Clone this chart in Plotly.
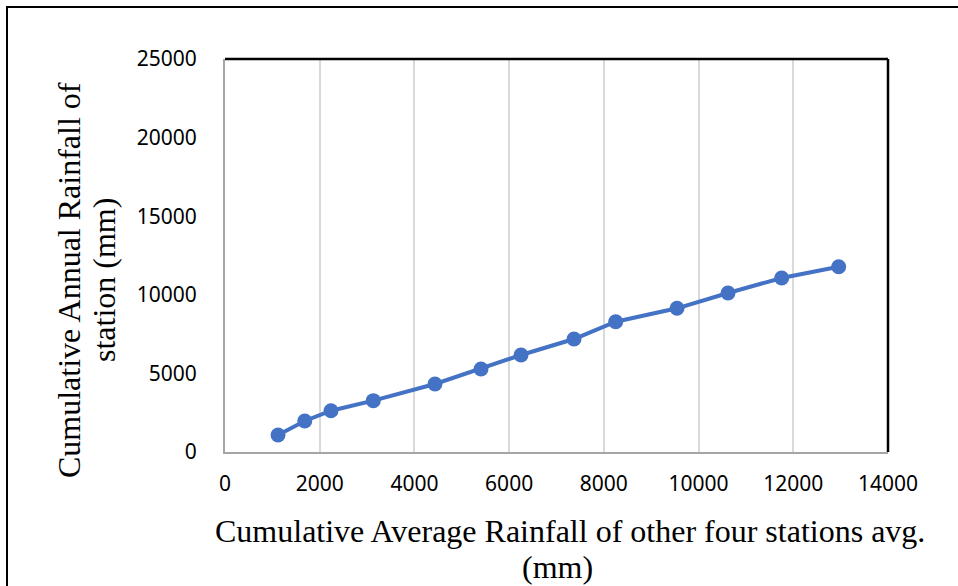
import plotly.graph_objects as go

avg_other = [1120, 1684, 2238, 3132, 4434, 5406, 6251, 7370, 8250, 9545, 10622, 11755, 12959]
station = [1081, 1972, 2627, 3265, 4326, 5280, 6170, 7188, 8290, 9140, 10115, 11069, 11789]

x_ticks = [0, 2000, 4000, 6000, 8000, 10000, 12000, 14000]
y_ticks = [0, 5000, 10000, 15000, 20000, 25000]

x_title = ["Cumulative Average Rainfall of other four stations avg.", "(mm)"]
y_title = ["Cumulative Annual Rainfall of", "station (mm)"]

W, H = 958, 586
L, R, T, B = 225, 70, 59, 134
pw, ph = W - L - R, H - T - B

def px(xp):
    return (xp - L) / pw

def py(yp):
    return (H - B - yp) / ph

fig = go.Figure()
fig.add_trace(go.Scatter(
    x=avg_other, y=station, mode="lines+markers",
    line=dict(color="#4472C4", width=4),
    marker=dict(color="#4472C4", size=15),
    showlegend=False,
))

tick_font = dict(family="Noto Sans", size=21, color="black")
fig.update_xaxes(
    range=[0, 14000], tickvals=x_ticks, ticktext=[str(v) for v in x_ticks],
    showgrid=True, gridcolor="#d9d9d9", gridwidth=1.5,
    showline=True, linecolor="#a6a6a6", linewidth=2,
    ticks="", tickfont=tick_font, ticklabelstandoff=12, zeroline=False,
)
fig.update_yaxes(
    range=[0, 25000], tickvals=y_ticks, ticktext=[str(v) for v in y_ticks],
    showgrid=False,
    showline=True, linecolor="#a6a6a6", linewidth=2,
    ticks="", tickfont=tick_font, ticklabelstandoff=22, zeroline=False,
)

shapes = [
    dict(type="line", xref="paper", yref="paper", x0=0, x1=1, y0=1, y1=1,
         line=dict(color="black", width=2.5)),
    dict(type="line", xref="paper", yref="paper", x0=1, x1=1, y0=0, y1=1,
         line=dict(color="black", width=2.5)),
    dict(type="rect", xref="paper", yref="paper", x0=px(7), x1=px(975), y0=py(600), y1=py(7),
         line=dict(color="black", width=2), layer="below"),
]

title_font = dict(family="Liberation Serif", size=32, color="black")
annotations = [
    dict(text=x_title[0], xref="paper", yref="paper", x=px(570), y=py(531),
         xanchor="center", yanchor="middle", showarrow=False, font=title_font),
    dict(text=x_title[1], xref="paper", yref="paper", x=px(557), y=py(567),
         xanchor="center", yanchor="middle", showarrow=False, font=title_font),
    dict(text=y_title[0], xref="paper", yref="paper", x=px(69), y=py(280),
         xanchor="center", yanchor="middle", textangle=-90, showarrow=False, font=title_font),
    dict(text=y_title[1], xref="paper", yref="paper", x=px(104), y=py(280),
         xanchor="center", yanchor="middle", textangle=-90, showarrow=False, font=title_font),
]

fig.update_layout(
    width=W, height=H,
    margin=dict(l=L, r=R, t=T, b=B),
    paper_bgcolor="white", plot_bgcolor="white",
    shapes=shapes, annotations=annotations,
)

fig.write_html("out.html")
